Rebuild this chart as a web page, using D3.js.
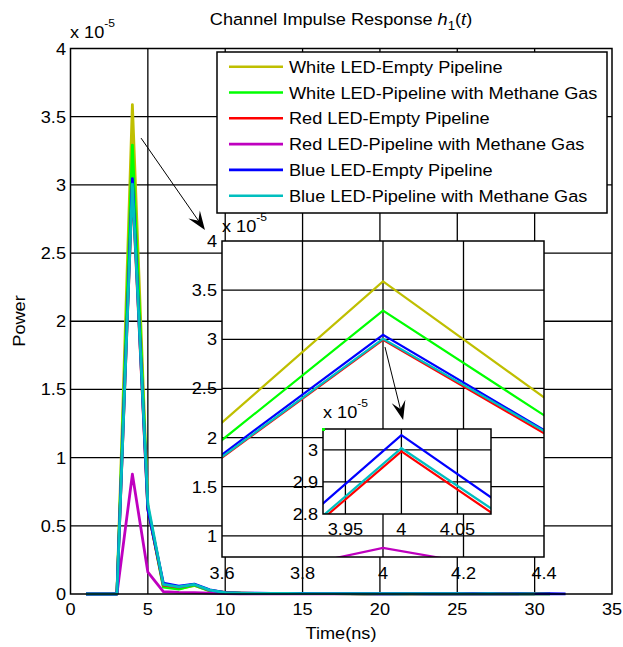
<!DOCTYPE html>
<html>
<head>
	<meta charset='utf-8'>
	<script src="https://cdnjs.cloudflare.com/ajax/libs/d3/7.8.5/d3.min.js" charset="utf-8"></script>
	<style>
	body { margin:0; background:#fff; font-family:'Liberation Sans', Arial, sans-serif; }
	svg text { font-family:'Liberation Sans', Arial, sans-serif; fill:#000; }
	</style>
</head>
<body>
<script>

// time axis (ns) and received power (x 1e-5)
var timeNs = [1,2,3,4,5,6,7,8,9,10,11,12,13,14,15,16,17,18,19,20,21,22,23,24,25,26,27,28,29,30,31,32];

var whiteEmpty   = [0,0,0,3.589,0.64,0.060,0.040,0.062,0.024,0.010,0.006,0.005,0.004,0.004,0.003,0.004,0.003,0.003,0.002,0.003,0.002,0.002,0.003,0.002,0.002,0.002,0.001,0.002,0.001,0.002,0.001];
var whiteMethane = [0,0,0,3.292,0.63,0.050,0.036,0.065,0.022,0.009,0.006,0.005,0.004,0.003,0.003,0.003,0.003,0.002,0.002,0.003,0.002,0.002,0.002,0.002,0.002,0.001,0.002,0.001,0.001,0.001,0.001];
var redEmpty     = [0,0,0,2.995,0.62,0.065,0.050,0.070,0.026,0.011,0.007,0.005,0.004,0.004,0.003,0.003,0.003,0.003,0.002,0.002,0.003,0.002,0.002,0.002,0.002,0.002,0.001,0.002,0.001,0.001];
var redMethane   = [0,0,0,0.878,0.16,0.017,0.012,0.010,0.006,0.003,0.002,0.002,0.001,0.001,0.001,0.001,0.001,0.001,0.001,0.001,0.001,0.001,0.001,0.001,0.001,0.001,0.001,0.001,0.001];
var blueEmpty    = [0,0,0,3.046,0.62,0.080,0.058,0.073,0.030,0.010,0.007,0.006,0.005,0.004,0.004,0.003,0.003,0.003,0.003,0.002,0.002,0.003,0.002,0.002,0.002,0.002,0.002,0.001,0.002,0.001,0.002,0.001];
var blueMethane  = [0,0,0,3.005,0.66,0.070,0.052,0.070,0.028,0.010,0.006,0.005,0.004,0.004,0.003,0.003,0.003,0.003,0.002,0.002,0.002,0.002,0.002,0.002,0.002,0.001,0.002,0.001,0.001,0.001];

var seriesNames = ['White LED-Empty Pipeline','White LED-Pipeline with Methane Gas','Red LED-Empty Pipeline',
	'Red LED-Pipeline with Methane Gas','Blue LED-Empty Pipeline','Blue LED-Pipeline with Methane Gas'];
var seriesColors = ['#bfbf00','#00ff00','#ff0000','#bf00bf','#0000ff','#00bfbf'];
var seriesValues = [whiteEmpty, whiteMethane, redEmpty, redMethane, blueEmpty, blueMethane];

var xTicks = [0,5,10,15,20,25,30,35],
	yTicks = [0,0.5,1,1.5,2,2.5,3,3.5,4];
var zoom1XTicks = [3.6,3.8,4,4.2,4.4],
	zoom1YTicks = [1,1.5,2,2.5,3,3.5,4];
var zoom2XTicks = [3.95,4,4.05],
	zoom2YTicks = [2.8,2.9,3];

var series = seriesValues.map(function (vals, i) {
	return { name: seriesNames[i], color: seriesColors[i],
		points: vals.map(function (v, j) { return [timeNs[j], v]; }) };
});

var W = 623, H = 647, fs = 16.5, stretch = 1.1;

var svg = d3.select('body').append('svg').attr('width', W).attr('height', H);

// text is a bit wider than tall in the original, so stretch it a touch
function txt(g, px, py, anchor, extra) {
	return g.append('text')
		.attr('transform', 'translate(' + px + ',' + py + ')' + (extra || '') + ' scale(' + stretch + ',1)')
		.attr('text-anchor', anchor).attr('font-size', fs);
}

// ---------- main axes
var x = d3.scaleLinear().domain([0,35]).range([70.5,612]);
var y = d3.scaleLinear().domain([0,4]).range([594,48.5]);

var main = svg.append('g');
main.append('rect').attr('x', x(0)).attr('y', y(4)).attr('width', x(35)-x(0)).attr('height', y(0)-y(4)).attr('fill', '#fff');

main.selectAll('.gx').data(xTicks.slice(1,-1)).enter().append('line')
	.attr('x1', function (d) { return x(d); }).attr('x2', function (d) { return x(d); })
	.attr('y1', y(0)).attr('y2', y(4)).attr('stroke', '#000').attr('stroke-width', 1.3);
main.selectAll('.gy').data(yTicks.slice(1,-1)).enter().append('line')
	.attr('y1', function (d) { return y(d); }).attr('y2', function (d) { return y(d); })
	.attr('x1', x(0)).attr('x2', x(35)).attr('stroke', '#000').attr('stroke-width', 1.3);

var line = d3.line().x(function (d) { return x(d[0]); }).y(function (d) { return y(d[1]); });
main.selectAll('.series').data(series).enter().append('path')
	.attr('d', function (d) { return line(d.points); })
	.attr('fill', 'none').attr('stroke', function (d) { return d.color; })
	.attr('stroke-width', 2.8).attr('stroke-linejoin', 'round');

main.append('rect').attr('x', x(0)).attr('y', y(4)).attr('width', x(35)-x(0)).attr('height', y(0)-y(4))
	.attr('fill', 'none').attr('stroke', '#000').attr('stroke-width', 1.5);

xTicks.forEach(function (d) { txt(main, x(d), 615, 'middle').text(d); });
yTicks.forEach(function (d) { txt(main, 66, y(d) + 6, 'end').text(d); });

function expLabel(g, px, py) {
	var t = txt(g, px, py, 'start');
	t.append('tspan').text('x 10');
	t.append('tspan').attr('dy', -11).attr('font-size', 11).text('-5');
}
expLabel(svg, 70, 38);

var title = txt(svg, 341, 25, 'middle');
title.append('tspan').text('Channel Impulse Response ');
title.append('tspan').attr('font-style', 'italic').text('h');
title.append('tspan').attr('dy', 5).attr('font-size', 12).text('1');
title.append('tspan').attr('dy', -5).text('(');
title.append('tspan').attr('font-style', 'italic').text('t');
title.append('tspan').text(')');

txt(svg, 341, 639, 'middle').text('Time(ns)');
txt(svg, 25, 321, 'middle', ' rotate(-90)').text('Power');

// ---------- legend
var legend = svg.append('g');
legend.append('rect').attr('x', 217).attr('y', 52).attr('width', 390).attr('height', 161)
	.attr('fill', '#fff').attr('stroke', '#000').attr('stroke-width', 1.5);
series.forEach(function (d, i) {
	var ry = 66.7 + i * 25.8;
	legend.append('line').attr('x1', 229).attr('x2', 283).attr('y1', ry).attr('y2', ry)
		.attr('stroke', d.color).attr('stroke-width', 2.6);
	txt(legend, 289, ry + 6, 'start').text(d.name);
});

// ---------- arrows (data coords of the axes they sit on)
function arrow(g, x0, y0, x1, y1) {
	var ang = Math.atan2(y1 - y0, x1 - x0), L = 19, Wd = 7;
	g.append('line').attr('x1', x0).attr('y1', y0).attr('x2', x1 - Math.cos(ang) * 10).attr('y2', y1 - Math.sin(ang) * 10)
		.attr('stroke', '#000').attr('stroke-width', 1);
	var p = [[0,0],[-L,-Wd],[-L*0.6,0],[-L,Wd]].map(function (q) {
		return [x1 + q[0]*Math.cos(ang) - q[1]*Math.sin(ang), y1 + q[0]*Math.sin(ang) + q[1]*Math.cos(ang)];
	});
	g.append('path').attr('d', 'M' + p.join('L') + 'Z').attr('fill', '#000');
}
arrow(svg, x(4.56), y(3.343), x(8.69), y(2.669));

// ---------- zoom insets
function inset(xd, xr, yd, yr, xt, yt, lw) {
	var sx = d3.scaleLinear().domain(xd).range(xr);
	var sy = d3.scaleLinear().domain(yd).range(yr);
	var g = svg.append('g');
	var id = 'clip' + Math.round(xr[0]);
	g.append('clipPath').attr('id', id).append('rect')
		.attr('x', xr[0]).attr('y', yr[1]).attr('width', xr[1]-xr[0]).attr('height', yr[0]-yr[1]);
	g.append('rect').attr('x', xr[0]).attr('y', yr[1]).attr('width', xr[1]-xr[0]).attr('height', yr[0]-yr[1]).attr('fill', '#fff');
	g.selectAll('.gx').data(xt.filter(function (d) { return d > xd[0] && d < xd[1]; })).enter().append('line')
		.attr('x1', function (d) { return sx(d); }).attr('x2', function (d) { return sx(d); })
		.attr('y1', yr[0]).attr('y2', yr[1]).attr('stroke', '#000').attr('stroke-width', 1.3);
	g.selectAll('.gy').data(yt.filter(function (d) { return d > yd[0] && d < yd[1]; })).enter().append('line')
		.attr('y1', function (d) { return sy(d); }).attr('y2', function (d) { return sy(d); })
		.attr('x1', xr[0]).attr('x2', xr[1]).attr('stroke', '#000').attr('stroke-width', 1.3);
	var ln = d3.line().x(function (d) { return sx(d[0]); }).y(function (d) { return sy(d[1]); });
	g.append('g').attr('clip-path', 'url(#' + id + ')').selectAll('path').data(series).enter().append('path')
		.attr('d', function (d) { return ln(d.points); })
		.attr('fill', 'none').attr('stroke', function (d) { return d.color; }).attr('stroke-width', lw);
	g.append('rect').attr('x', xr[0]).attr('y', yr[1]).attr('width', xr[1]-xr[0]).attr('height', yr[0]-yr[1])
		.attr('fill', 'none').attr('stroke', '#000').attr('stroke-width', 1.5);
	return { g: g, sx: sx, sy: sy };
}

var z1 = inset([3.6,4.4], [222,544], [0.785,4], [557,241], zoom1XTicks, zoom1YTicks, 2.2);
zoom1XTicks.forEach(function (d) { txt(z1.g, z1.sx(d), 579, 'middle').text(d); });
zoom1YTicks.forEach(function (d) { txt(z1.g, 217, z1.sy(d) + 6, 'end').text(d); });
expLabel(z1.g, 222, 232);

arrow(svg, z1.sx(4.005), z1.sy(2.921), z1.sx(4.05), z1.sy(2.179));

var z2 = inset([3.93,4.08], [323,491], [2.8,3.065], [514,429], zoom2XTicks, zoom2YTicks, 2.2);
zoom2XTicks.forEach(function (d) { txt(z2.g, z2.sx(d), 535, 'middle').text(d); });
zoom2YTicks.forEach(function (d) { txt(z2.g, 318, z2.sy(d) + 6, 'end').text(d); });
expLabel(z2.g, 323, 418);
z2.g.append('rect').attr('x', 322).attr('y', 428).attr('width', 3).attr('height', 3).attr('fill', '#00ff00');

</script>
</body>
</html>
